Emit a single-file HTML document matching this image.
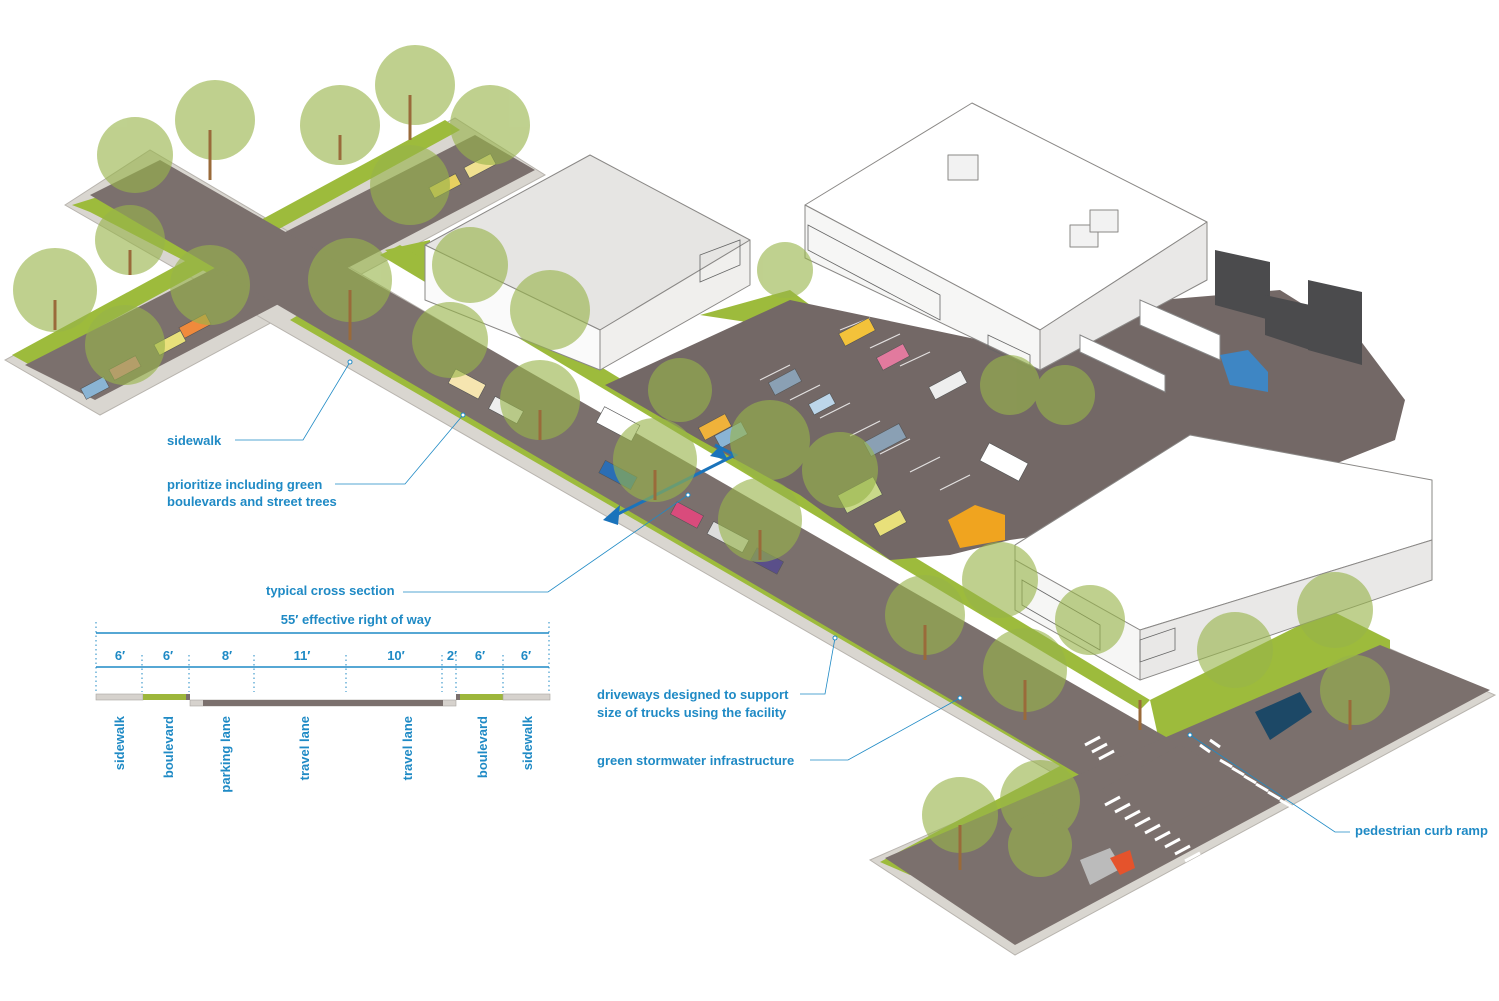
<!DOCTYPE html>
<html><head><meta charset="utf-8"><style>
html,body{margin:0;padding:0;background:#fff;}
svg{display:block;}
text{font-family:"Liberation Sans",sans-serif;font-weight:bold;fill:#1f8ac5;}
</style></head><body>
<svg width="1499" height="1001" viewBox="0 0 1499 1001" xmlns="http://www.w3.org/2000/svg">
<!-- sidewalk base bands -->
<g fill="#d9d6d0" stroke="#b8b4ae" stroke-width="1">
<polygon points="5,360 100,415 545,175 455,118"/>
<polygon points="65,205 150,150 1170,750 1100,800"/>
<polygon points="870,860 1015,955 1495,695 1370,640"/>
</g>
<!-- lawns -->
<g fill="#9dbb3c">
<polygon points="1150,700 1330,610 1390,640 1390,660 1200,760 1160,745"/>
<polygon points="880,862 1090,750 1110,790 1000,870 910,875"/>
<polygon points="975,400 1040,360 1090,395 1085,455 1035,470 975,430"/>
<polygon points="700,315 790,290 830,320 800,330"/>
<polygon points="385,250 430,240 430,280"/>
</g>
<!-- green strips -->
<g fill="#9dbb3c">
<polygon points="12,355 30,365 460,130 445,120"/>
<polygon points="72,205 90,212 270,305 285,296 120,190"/>
<polygon points="290,320 300,314 1130,790 1115,798"/>
<polygon points="380,255 400,245 1150,700 1140,710"/>
<polygon points="1270,765 1290,778 1420,700 1400,690"/>
<polygon points="975,915 995,925 1150,835 1130,825"/>
</g>
<!-- roads -->
<g fill="#7b706d">
<polygon points="25,365 95,400 535,170 475,135"/>
<polygon points="90,195 160,160 1180,745 1105,790"/>
<polygon points="885,858 1015,945 1490,690 1380,645"/>
<polygon points="1100,790 1180,745 1250,785 1160,830"/>
</g>
<!-- parking lot -->
<polygon fill="#736866" points="605,385 790,300 980,340 1160,300 1280,290 1360,340 1405,400 1395,440 1320,470 1150,520 1010,540 950,555 890,560 800,495 700,440"/>
<g stroke="#fff" stroke-width="1.2" opacity="0.8">
<line x1="760" y1="380" x2="790" y2="365"/><line x1="790" y1="400" x2="820" y2="385"/><line x1="820" y1="418" x2="850" y2="403"/><line x1="850" y1="436" x2="880" y2="421"/><line x1="880" y1="454" x2="910" y2="439"/><line x1="910" y1="472" x2="940" y2="457"/><line x1="940" y1="490" x2="970" y2="475"/>
<line x1="840" y1="330" x2="870" y2="318"/><line x1="870" y1="348" x2="900" y2="334"/><line x1="900" y1="366" x2="930" y2="352"/>
</g>
<!-- cars -->
<g stroke="#555" stroke-width="0.6">
<rect x="770" y="375" width="30" height="14" fill="#8aa0b4" transform="rotate(-28 785 382)"/>
<rect x="810" y="398" width="24" height="12" fill="#bcd6ea" transform="rotate(-28 822 404)"/>
<rect x="865" y="432" width="40" height="16" fill="#8aa0b4" transform="rotate(-28 885 440)"/>
<rect x="878" y="350" width="30" height="14" fill="#e27a9e" transform="rotate(-28 893 357)"/>
<rect x="840" y="325" width="34" height="14" fill="#f3c23a" transform="rotate(-28 857 332)"/>
<rect x="930" y="378" width="36" height="14" fill="#eee" transform="rotate(-28 948 385)"/>
<rect x="982" y="452" width="44" height="20" fill="#fff" transform="rotate(28 1004 462)"/>
<rect x="840" y="485" width="40" height="20" fill="#c9d98a" transform="rotate(-28 860 495)"/>
<rect x="875" y="516" width="30" height="14" fill="#e8e07a" transform="rotate(-28 890 523)"/>
<rect x="700" y="420" width="30" height="14" fill="#f0b23a" transform="rotate(-28 715 427)"/>
<rect x="716" y="428" width="30" height="14" fill="#8ab4d4" transform="rotate(-28 731 435)"/>
<rect x="598" y="415" width="40" height="18" fill="#fff" transform="rotate(28 618 424)"/>
<rect x="600" y="468" width="36" height="14" fill="#2b6eb5" transform="rotate(28 618 475)"/>
<rect x="672" y="508" width="30" height="14" fill="#d94b7c" transform="rotate(28 687 515)"/>
<rect x="708" y="530" width="40" height="14" fill="#ddd" transform="rotate(28 728 537)"/>
<rect x="752" y="554" width="30" height="14" fill="#5a4f8a" transform="rotate(28 767 561)"/>
<rect x="490" y="403" width="32" height="14" fill="#eee" transform="rotate(28 506 410)"/>
<rect x="450" y="376" width="34" height="16" fill="#f6e5b0" transform="rotate(28 467 384)"/>
<rect x="180" y="320" width="30" height="12" fill="#f08a3c" transform="rotate(-28 195 326)"/>
<rect x="155" y="337" width="30" height="12" fill="#e8e07a" transform="rotate(-28 170 343)"/>
<rect x="110" y="362" width="30" height="12" fill="#e27a9e" transform="rotate(-28 125 368)"/>
<rect x="82" y="382" width="26" height="12" fill="#8ab4d4" transform="rotate(-28 95 388)"/>
<rect x="430" y="180" width="30" height="12" fill="#e8d060" transform="rotate(-28 445 186)"/>
<rect x="465" y="160" width="30" height="12" fill="#f0e090" transform="rotate(-28 480 166)"/>
</g>
<!-- buildings -->
<g stroke="#8a8886" stroke-width="1" stroke-linejoin="round">
<polygon fill="#e6e5e3" points="425,245 600,330 750,240 590,155"/>
<polygon fill="#fafafa" points="600,330 600,370 425,300 425,245"/>
<polygon fill="#f0efed" points="600,330 750,240 750,285 600,370"/>
<polygon fill="#ffffff" points="805,205 972,103 1207,222 1040,330"/>
<polygon fill="#f6f6f5" points="805,205 1040,330 1040,370 805,258"/>
<polygon fill="#e9e8e7" points="1040,330 1207,222 1207,280 1040,370"/>
<polygon fill="#ffffff" points="1015,545 1190,435 1432,480 1432,540 1140,630 1015,560"/>
<polygon fill="#f6f6f5" points="1015,560 1140,630 1140,680 1015,610"/>
<polygon fill="#e9e8e7" points="1140,630 1432,540 1432,580 1140,680"/>
<rect x="948" y="155" width="30" height="25" fill="#f2f2f2"/>
<rect x="1070" y="225" width="28" height="22" fill="#f2f2f2"/>
<rect x="1090" y="210" width="28" height="22" fill="#f2f2f2"/>
</g>
<!-- windows -->
<g fill="none" stroke="#666" stroke-width="0.8">
<polygon points="808,225 940,295 940,320 808,250"/>
<polygon points="988,335 1030,355 1030,368 988,348"/>
<polygon points="1022,580 1100,625 1100,650 1022,605"/>
<polygon points="1140,640 1175,628 1175,650 1140,662"/>
<polygon points="700,255 740,240 740,265 700,282"/>
</g>
<!-- dark containers -->
<g fill="#4b4b4d"><polygon points="1215,250 1270,262 1270,320 1215,305"/><polygon points="1265,295 1310,305 1310,350 1265,335"/><polygon points="1308,280 1362,292 1362,365 1308,350"/></g>
<!-- trucks -->
<g stroke="#888" fill="#fff"><polygon points="1080,335 1165,375 1165,392 1080,352"/><polygon points="1140,300 1220,335 1220,360 1140,325"/></g>
<polygon fill="#3e86c4" points="1220,355 1248,350 1268,372 1268,392 1230,385"/>
<polygon fill="#f0a41f" points="948,520 975,505 1005,515 1005,540 960,548"/>
<polygon fill="#1c4866" points="1255,712 1300,692 1312,712 1270,740"/>
<polygon fill="#bbb" points="1080,860 1110,848 1122,868 1090,885"/>
<polygon fill="#e5532c" points="1110,858 1130,850 1135,868 1120,875"/>
<!-- blue arrows -->
<g stroke="#1a73bb" stroke-width="3" fill="none"><polyline points="610,518 735,455 715,445"/></g>
<polygon fill="#1a73bb" points="603,520 620,505 618,525"/><polygon fill="#1a73bb" points="720,446 710,456 728,460"/>
<!-- crosswalks -->
<g stroke="#fff" stroke-width="3">
<line x1="1105" y1="805" x2="1120" y2="797"/><line x1="1115" y1="812" x2="1130" y2="804"/><line x1="1125" y1="819" x2="1140" y2="811"/><line x1="1135" y1="826" x2="1150" y2="818"/><line x1="1145" y1="833" x2="1160" y2="825"/><line x1="1155" y1="840" x2="1170" y2="832"/><line x1="1165" y1="847" x2="1180" y2="839"/><line x1="1175" y1="854" x2="1190" y2="846"/><line x1="1185" y1="861" x2="1200" y2="853"/><line x1="1195" y1="868" x2="1210" y2="860"/>
<line x1="1200" y1="745" x2="1210" y2="752"/><line x1="1210" y1="740" x2="1220" y2="747"/><line x1="1220" y1="760" x2="1232" y2="767"/><line x1="1232" y1="768" x2="1244" y2="775"/><line x1="1244" y1="776" x2="1256" y2="783"/><line x1="1256" y1="784" x2="1268" y2="791"/><line x1="1268" y1="792" x2="1280" y2="799"/><line x1="1280" y1="800" x2="1292" y2="807"/>
<line x1="1085" y1="745" x2="1100" y2="737"/><line x1="1092" y1="752" x2="1107" y2="744"/><line x1="1099" y1="759" x2="1114" y2="751"/>
</g>
<!-- trees -->
<g fill="#98b44a" opacity="0.62">
<circle cx="55" cy="290" r="42"/><circle cx="130" cy="240" r="35"/><circle cx="135" cy="155" r="38"/><circle cx="215" cy="120" r="40"/><circle cx="340" cy="125" r="40"/><circle cx="415" cy="85" r="40"/><circle cx="490" cy="125" r="40"/><circle cx="410" cy="185" r="40"/><circle cx="210" cy="285" r="40"/><circle cx="125" cy="345" r="40"/>
<circle cx="350" cy="280" r="42"/><circle cx="470" cy="265" r="38"/><circle cx="550" cy="310" r="40"/><circle cx="450" cy="340" r="38"/><circle cx="540" cy="400" r="40"/><circle cx="680" cy="390" r="32"/><circle cx="655" cy="460" r="42"/><circle cx="770" cy="440" r="40"/><circle cx="840" cy="470" r="38"/><circle cx="760" cy="520" r="42"/>
<circle cx="785" cy="270" r="28"/><circle cx="1010" cy="385" r="30"/><circle cx="1065" cy="395" r="30"/>
<circle cx="925" cy="615" r="40"/><circle cx="1000" cy="580" r="38"/><circle cx="1025" cy="670" r="42"/><circle cx="1090" cy="620" r="35"/><circle cx="1235" cy="650" r="38"/><circle cx="1335" cy="610" r="38"/><circle cx="1355" cy="690" r="35"/>
<circle cx="960" cy="815" r="38"/><circle cx="1040" cy="800" r="40"/><circle cx="1040" cy="845" r="32"/>
</g>
<!-- trunks -->
<g stroke="#9a6a3a" stroke-width="3">
<line x1="55" y1="300" x2="55" y2="330"/><line x1="130" y1="250" x2="130" y2="275"/><line x1="210" y1="130" x2="210" y2="180"/><line x1="340" y1="135" x2="340" y2="160"/><line x1="410" y1="95" x2="410" y2="140"/><line x1="350" y1="290" x2="350" y2="340"/><line x1="540" y1="410" x2="540" y2="440"/><line x1="655" y1="470" x2="655" y2="500"/><line x1="760" y1="530" x2="760" y2="560"/><line x1="925" y1="625" x2="925" y2="660"/><line x1="1025" y1="680" x2="1025" y2="720"/><line x1="960" y1="825" x2="960" y2="870"/><line x1="1140" y1="700" x2="1140" y2="730"/><line x1="1350" y1="700" x2="1350" y2="730"/>
</g>
<!-- leader lines -->
<g stroke="#1f8ac5" stroke-width="0.8" fill="none">
<polyline points="235,440 303,440 350,362"/>
<polyline points="335,484 405,484 463,415"/>
<polyline points="403,592 548,592 688,495"/>
<polyline points="800,694 825,694 835,638"/>
<polyline points="810,760 848,760 960,698"/>
<polyline points="1350,832 1335,832 1190,735"/>
</g>
<g fill="#fff" stroke="#1f8ac5" stroke-width="1"><circle cx="350" cy="362" r="2"/><circle cx="463" cy="415" r="2"/><circle cx="688" cy="495" r="2"/><circle cx="835" cy="638" r="2"/><circle cx="960" cy="698" r="2"/><circle cx="1190" cy="735" r="2"/></g>
<!-- labels -->
<g font-size="13">
<text x="167" y="445">sidewalk</text>
<text x="167" y="489">prioritize including green</text>
<text x="167" y="506">boulevards and street trees</text>
<text x="266" y="595">typical cross section</text>
<text x="597" y="699">driveways designed to support</text>
<text x="597" y="717">size of trucks using the facility</text>
<text x="597" y="765">green stormwater infrastructure</text>
<text x="1355" y="835">pedestrian curb ramp</text>
<text x="356" y="624" text-anchor="middle">55′ effective right of way</text>
</g>
<!-- cross section -->
<g stroke="#1f8ac5" stroke-width="1.5">
<line x1="96" y1="633" x2="549" y2="633"/><line x1="96" y1="667" x2="549" y2="667"/>
</g>
<g stroke="#1f8ac5" stroke-width="1" stroke-dasharray="1.5,3">
<line x1="96" y1="622" x2="96" y2="692"/><line x1="142" y1="655" x2="142" y2="692"/><line x1="189" y1="655" x2="189" y2="692"/><line x1="254" y1="655" x2="254" y2="692"/><line x1="346" y1="655" x2="346" y2="692"/><line x1="442" y1="655" x2="442" y2="692"/><line x1="456" y1="655" x2="456" y2="692"/><line x1="503" y1="655" x2="503" y2="692"/><line x1="549" y1="622" x2="549" y2="692"/>
</g>
<g font-size="13" text-anchor="middle">
<text x="120" y="660">6′</text><text x="168" y="660">6′</text><text x="227" y="660">8′</text><text x="302" y="660">11′</text><text x="396" y="660">10′</text><text x="452" y="660">2′</text><text x="480" y="660">6′</text><text x="526" y="660">6′</text>
</g>
<rect x="96" y="694" width="47" height="6" fill="#d6d2cd" stroke="#a9a5a0" stroke-width="0.6"/>
<rect x="143" y="694" width="43" height="6" fill="#9db63b"/>
<rect x="186" y="694" width="4" height="6" fill="#7b706d"/>
<rect x="190" y="700" width="266" height="6" fill="#d6d2cd" stroke="#a9a5a0" stroke-width="0.6"/>
<rect x="203" y="700" width="240" height="6" fill="#7b706d"/>
<rect x="456" y="694" width="4" height="6" fill="#7b706d"/>
<rect x="460" y="694" width="43" height="6" fill="#9db63b"/>
<rect x="503" y="694" width="47" height="6" fill="#d6d2cd" stroke="#a9a5a0" stroke-width="0.6"/>
<g font-size="13" text-anchor="end">
<text transform="translate(124,716) rotate(-90)">sidewalk</text>
<text transform="translate(173,716) rotate(-90)">boulevard</text>
<text transform="translate(230,716) rotate(-90)">parking lane</text>
<text transform="translate(309,716) rotate(-90)">travel lane</text>
<text transform="translate(412,716) rotate(-90)">travel lane</text>
<text transform="translate(487,716) rotate(-90)">boulevard</text>
<text transform="translate(532,716) rotate(-90)">sidewalk</text>
</g>
</svg>
</body></html>
